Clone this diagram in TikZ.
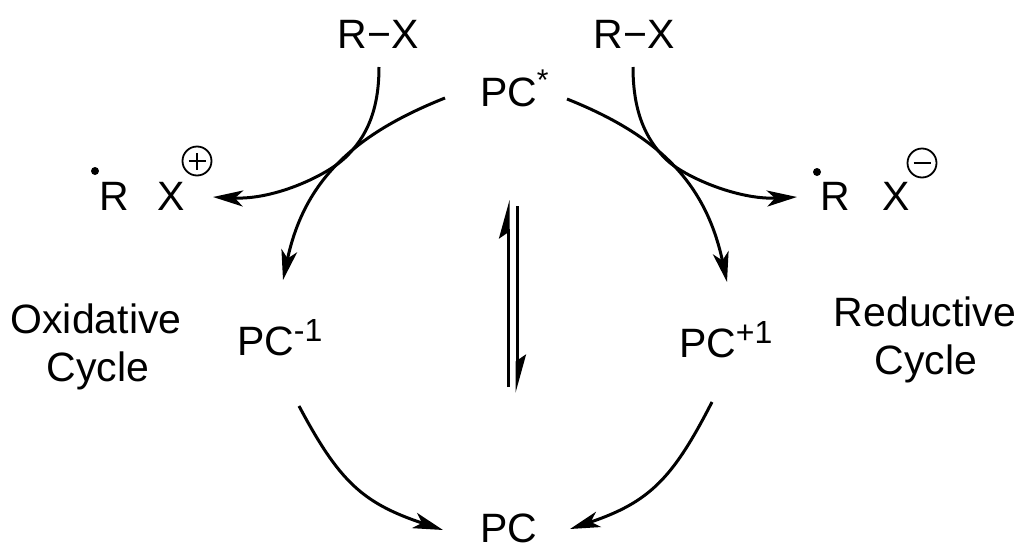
\documentclass[tikz,border=0pt]{standalone}
\usepackage{fontspec}
\setmainfont{Liberation Sans}
\usetikzlibrary{arrows.meta}
\newcommand\supx[1]{\raisebox{14pt}{\fontsize{32}{32}\selectfont #1}}
\newcommand\astx{\raisebox{16pt}{\fontsize{30}{30}\selectfont *}}
\begin{document}
\begin{tikzpicture}[x=1pt,y=-1pt,
  txt/.style={inner sep=0pt, outer sep=0pt, font=\fontsize{41}{49}\selectfont},
  rxn/.style={line width=3pt, -{Stealth[length=30pt,width=16pt,inset=8pt]}},
  harp/.style={line width=3pt, -{Stealth[left,length=33pt,width=18pt,inset=6pt]}},
  raddot/.style={circle, fill=black, inner sep=0pt, minimum size=8pt},
  chg/.style={circle, draw=black, line width=1.8pt, inner sep=0pt, minimum size=29pt},
  chgbar/.style={line width=2.2pt}]
\useasboundingbox (0,0) rectangle (1021,552);
% text
\node[txt, anchor=base] (rx1) at (378,48) {R\symbol{"2212}X};
\node[txt, anchor=base] (rx2) at (634,48) {R\symbol{"2212}X};
\node[txt, anchor=base west] (pcs) at (480,106) {PC\astx};
\node[txt, anchor=base west] (pcm) at (237,355) {PC\supx{-1}};
\node[txt, anchor=base west] (pcp) at (679,357) {PC\supx{+1}};
\node[txt, anchor=base west] (pc) at (480,542) {PC};
\node[txt, anchor=base] (ox1) at (96,333) {Oxidative};
\node[txt, anchor=base] (ox2) at (98,381) {Cycle};
\node[txt, anchor=base] (rd1) at (925,326) {Reductive};
\node[txt, anchor=base] (rd2) at (926,374) {Cycle};
% radical products
\node[raddot] (d1) at (95,171) {};
\node[txt, anchor=base west] (r1) at (99,210) {R};
\node[txt, anchor=base west] (x1) at (157,210) {X};
\node[chg] (c1) at (197,161) {};
\draw[chgbar] ([xshift=-8.5pt]c1.center) -- ([xshift=8.5pt]c1.center);
\draw[chgbar] ([yshift=-8.5pt]c1.center) -- ([yshift=8.5pt]c1.center);
\node[raddot] (d2) at (817,172) {};
\node[txt, anchor=base west] (r2) at (820,210) {R};
\node[txt, anchor=base west] (x2) at (882,210) {X};
\node[chg] (c2) at (922,163) {};
\draw[chgbar] ([xshift=-8.5pt]c2.center) -- ([xshift=8.5pt]c2.center);
% connector end points
\coordinate (lA) at (445,98);   \coordinate (lB) at (283,280);
\coordinate (rA) at (567,99);   \coordinate (rB) at (727,282);
\coordinate (lX) at (379,67);   \coordinate (lR) at (213,197);
\coordinate (rX) at (633,67);   \coordinate (rR) at (797,197);
\coordinate (lM) at (345.2,157.7); \coordinate (rM) at (665.9,159.2);
\coordinate (lC) at (299,406);  \coordinate (lD) at (443,530);
\coordinate (rC) at (712,402);  \coordinate (rD) at (570,529);
\coordinate (eqA) at (508,387); \coordinate (eqB) at (508,200);
\coordinate (eqC) at (517,206); \coordinate (eqD) at (517,393);
% arrows
\draw[rxn] (lA) .. controls (352,135) and (304,182) .. (lB);
\draw[rxn] (rA) .. controls (660,136) and (706,184) .. (rB);
\draw[rxn] (lX) .. controls (379,110) and (366.8,137) .. (lM)
              .. controls (327.2,175) and (275,200) .. (lR);
\draw[rxn] (rX) .. controls (633,110) and (644.6,138.2) .. (rM)
              .. controls (683.7,176.7) and (738,200) .. (rR);
\draw[rxn] (lC) .. controls (339,481) and (362,503) .. (lD);
\draw[rxn] (rC) .. controls (673,478) and (650,502) .. (rD);
\draw[harp] (eqA) -- (eqB);
\draw[harp] (eqC) -- (eqD);
\end{tikzpicture}
\end{document}
